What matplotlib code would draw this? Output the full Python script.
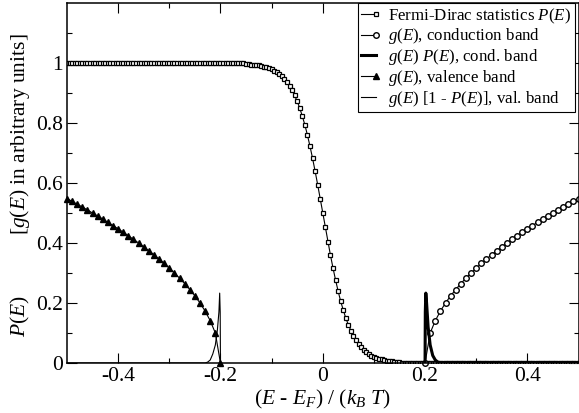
import numpy as np
import matplotlib
matplotlib.use('Agg')
import matplotlib.pyplot as plt
from matplotlib.legend_handler import HandlerLine2D
from matplotlib.ticker import FixedLocator, FuncFormatter

plt.rcParams['font.family'] = 'serif'
plt.rcParams['font.serif'] = ['Liberation Serif', 'DejaVu Serif']
plt.rcParams['mathtext.fontset'] = 'custom'
plt.rcParams['mathtext.rm'] = 'Liberation Serif'
plt.rcParams['mathtext.it'] = 'Liberation Serif:italic'
plt.rcParams['axes.unicode_minus'] = False

# (E - E_F) sample points for the Fermi-Dirac curve, every 0.005
x_fd = np.linspace(-0.5, 0.5, 201)
p_fd = ([1.0] * 70 +
        [0.997, 0.996, 0.995, 0.994, 0.993, 0.992, 0.990, 0.988, 0.986, 0.983,
         0.979, 0.975, 0.970, 0.963, 0.956, 0.947, 0.937, 0.924, 0.910, 0.892,
         0.872, 0.850, 0.823, 0.794, 0.760, 0.723, 0.683, 0.640, 0.595, 0.548,
         0.500,
         0.452, 0.405, 0.360, 0.317, 0.277, 0.240, 0.206, 0.177, 0.150, 0.128,
         0.108, 0.090, 0.076, 0.063, 0.053, 0.044, 0.037, 0.030, 0.025, 0.021,
         0.017, 0.014, 0.012, 0.010, 0.008, 0.007, 0.006, 0.005, 0.004, 0.003] +
        [0.0] * 70)

# valence band density of states (triangles)
x_vb = [-0.50, -0.49, -0.48, -0.47, -0.46, -0.45, -0.44, -0.43, -0.42, -0.41,
        -0.40, -0.39, -0.38, -0.37, -0.36, -0.35, -0.34, -0.33, -0.32, -0.31,
        -0.30, -0.29, -0.28, -0.27, -0.26, -0.25, -0.24, -0.23, -0.22, -0.21,
        -0.20]
g_vb = [0.548, 0.539, 0.529, 0.520, 0.510, 0.500, 0.490, 0.480, 0.469, 0.458,
        0.447, 0.436, 0.424, 0.412, 0.400, 0.387, 0.374, 0.361, 0.346, 0.332,
        0.316, 0.300, 0.283, 0.265, 0.245, 0.224, 0.200, 0.173, 0.141, 0.100,
        0.0]

# conduction band density of states (circles)
x_cb = [0.20, 0.21, 0.22, 0.23, 0.24, 0.25, 0.26, 0.27, 0.28, 0.29,
        0.30, 0.31, 0.32, 0.33, 0.34, 0.35, 0.36, 0.37, 0.38, 0.39,
        0.40, 0.41, 0.42, 0.43, 0.44, 0.45, 0.46, 0.47, 0.48, 0.49,
        0.50]
g_cb = [0.0, 0.100, 0.141, 0.173, 0.200, 0.224, 0.245, 0.265, 0.283, 0.300,
        0.316, 0.332, 0.346, 0.361, 0.374, 0.387, 0.400, 0.412, 0.424, 0.436,
        0.447, 0.458, 0.469, 0.480, 0.490, 0.500, 0.510, 0.520, 0.529, 0.539,
        0.548]

# g(E) P(E) near the conduction band edge
x_cb_el = [0.20, 0.2005, 0.2015, 0.203, 0.206, 0.21, 0.215, 0.22, 0.225, 0.23, 0.50]
y_cb_el = [0.0, 0.17, 0.233, 0.20, 0.12, 0.06, 0.025, 0.01, 0.003, 0.0, 0.0]

# g(E) [1 - P(E)] near the valence band edge
x_vb_h = [-0.50, -0.23, -0.225, -0.22, -0.215, -0.21, -0.206, -0.203, -0.2015, -0.2005, -0.20]
y_vb_h = [0.0, 0.0, 0.003, 0.01, 0.03, 0.06, 0.11, 0.17, 0.233, 0.17, 0.0]


class EndMarker(HandlerLine2D):
    # marker only on the right end of the legend line
    def create_artists(self, *args, **kwargs):
        arts = super().create_artists(*args, **kwargs)
        for a in arts:
            a.set_markevery([len(a.get_xdata()) - 1])
        return arts


fig = plt.figure(figsize=(5.79, 4.13), dpi=100)
ax = fig.add_axes([67 / 579, 1 - 363 / 413, 511.5 / 579, 360 / 413])

l1, = ax.plot(x_fd, p_fd, '-s', color='k', lw=0.8, ms=3.0, mfc='white',
              mec='k', mew=0.9, label='Fermi-Dirac statistics $P(E)$')
l2, = ax.plot(x_cb, g_cb, '-o', color='k', lw=0.8, ms=4.0, mfc='white',
              mec='k', mew=1.0, label='$g(E)$, conduction band', clip_on=False)
l3, = ax.plot(x_cb_el, y_cb_el, '-', color='k', lw=2.2,
              label='$g(E)$ $P(E)$, cond. band')
l4, = ax.plot(x_vb, g_vb, '-^', color='k', lw=0.8, ms=4.3,
              label='$g(E)$, valence band', clip_on=False)
l5, = ax.plot(x_vb_h, y_vb_h, '-', color='k', lw=0.8,
              label='$g(E)$ [1 - $P(E)$], val. band')

ax.set_xlim(-0.5, 0.5)
ax.set_ylim(0, 1.2)
ax.xaxis.set_major_locator(FixedLocator([-0.4, -0.2, 0, 0.2, 0.4]))
ax.xaxis.set_minor_locator(FixedLocator([-0.3, -0.1, 0.1, 0.3]))
ax.yaxis.set_major_locator(FixedLocator([0, 0.2, 0.4, 0.6, 0.8, 1.0]))
ax.yaxis.set_minor_locator(FixedLocator([0.1, 0.3, 0.5, 0.7, 0.9, 1.1]))
fmt = FuncFormatter(lambda v, p: '{:g}'.format(round(v, 2)))
ax.xaxis.set_major_formatter(fmt)
ax.yaxis.set_major_formatter(fmt)
ax.tick_params(which='both', direction='in', top=True, right=True,
               labelsize=15.5, width=0.8, pad=3)
ax.tick_params(which='major', length=7)
ax.tick_params(which='minor', length=3.6)
for s in ax.spines.values():
    s.set_linewidth(1.1)

ax.set_xlabel('($E$ - $E_F$) / ($k_B$ $T$)', fontsize=15.5, labelpad=1)
fig.text(20 / 579, 1 - 316 / 413, '$P(E)$', rotation=90, fontsize=15.5,
         ha='center', va='center')
fig.text(20 / 579, 1 - 134 / 413, '[$g(E)$ in arbitrary units]', rotation=90,
         fontsize=15.5, ha='center', va='center')

leg = ax.legend(handles=[l1, l2, l3, l4, l5], loc='upper right',
                bbox_to_anchor=(1 - 4 / 511.5, 1), borderaxespad=0,
                fontsize=12.2, numpoints=2, handlelength=0.9,
                handletextpad=0.7, borderpad=0.2, labelspacing=0.05,
                fancybox=False, framealpha=1, edgecolor='k',
                handler_map={l: EndMarker(numpoints=2, marker_pad=0)
                             for l in [l1, l2, l3, l4, l5]})
leg.get_frame().set_linewidth(0.8)

fig.savefig('out.png', dpi=100)
